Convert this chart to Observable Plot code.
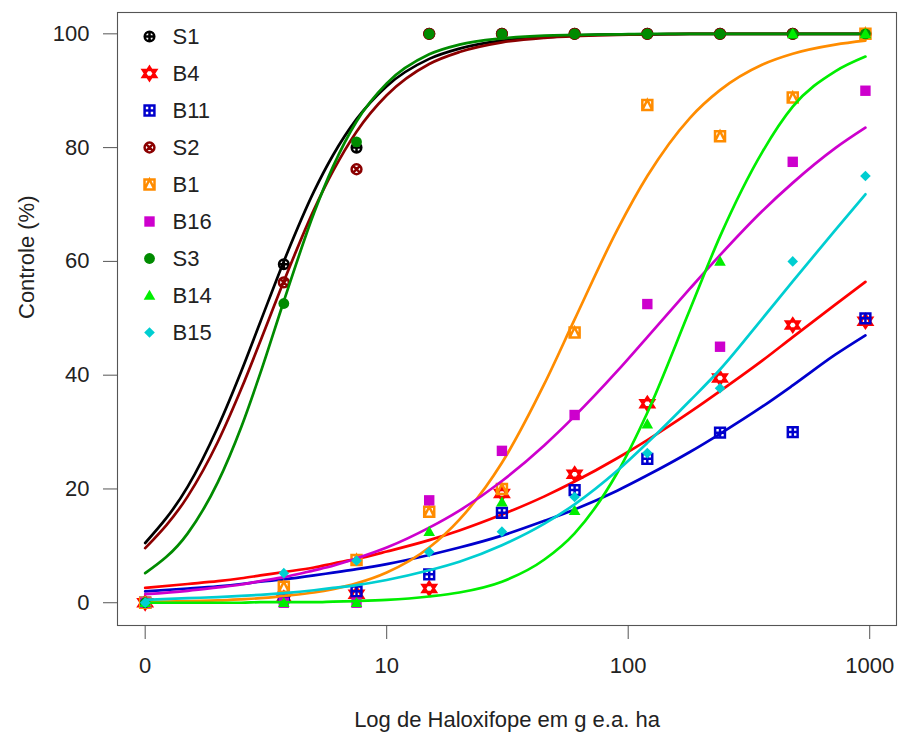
<!DOCTYPE html>
<html><head><meta charset="utf-8">
<script src="https://cdn.jsdelivr.net/npm/d3@7"></script>
<script src="https://cdn.jsdelivr.net/npm/@observablehq/plot@0.6"></script>
<style>body{margin:0;background:#fff;}</style>
</head><body><div id="chart"></div>
<script>
// ---- data ----
const series = ["S1", "B4", "B11", "S2", "B1", "B16", "S3", "B14", "B15"];
const doses = [0, 3.75, 7.5, 15, 30, 60, 120, 240, 480, 960];
const controlS1  = [0, 59.5, 80, 100, 100, 100, 100, 100, 100, 100];
const controlB4  = [0, 0.8, 1.5, 2.5, 19.2, 22.6, 35, 39.5, 48.8, 49.5];
const controlB11 = [0, 1, 2, 5, 15.8, 19.8, 25.3, 29.9, 30, 50];
const controlS2  = [0, 56.3, 76.2, 100, 100, 100, 100, 100, 100, 100];
const controlB1  = [0, 2.8, 7.5, 16, 20, 47.5, 87.5, 82, 88.8, 100];
const controlB16 = [0, 0, 0, 18, 26.7, 33, 52.5, 45, 77.5, 90];
const controlS3  = [0, 52.6, 81, 100, 100, 100, 100, 100, 100, 100];
const controlB14 = [0, 0, 0, 12.5, 17.7, 16.2, 31.4, 60, 100, 100];
const controlB15 = [0, 5.2, 7.4, 8.9, 12.5, 18.6, 26.3, 37.7, 60, 75];

// fitted curves
const curveDoses = [1, 1.5, 2, 2.5, 3, 3.75, 5, 6, 7.5, 10, 15, 20, 30, 45, 60, 90, 120, 180, 240, 360, 480, 720, 960];
const fitS1  = [10.5, 20.4, 30.9, 40.7, 49.4, 60.0, 72.3, 78.7, 85.0, 90.8, 95.6, 97.4, 98.8, 99.4, 99.7, 99.9, 99.9, 100, 100, 100, 100, 100, 100];
const fitB4  = [2.6, 3.3, 3.8, 4.3, 4.8, 5.4, 6.2, 6.9, 7.7, 9.0, 11.0, 12.7, 15.5, 18.7, 21.3, 25.4, 28.6, 33.5, 37.2, 42.6, 46.7, 52.4, 56.4];
const fitB11 = [2.0, 2.5, 2.9, 3.3, 3.7, 4.1, 4.8, 5.3, 5.9, 6.8, 8.4, 9.7, 11.8, 14.4, 16.4, 19.7, 22.4, 26.5, 29.7, 34.5, 38.2, 43.6, 47.0];
const fitS2  = [9.6, 18.7, 28.3, 37.6, 46.0, 56.5, 69.1, 75.9, 82.8, 89.2, 94.7, 96.8, 98.5, 99.3, 99.6, 99.8, 99.9, 100, 100, 100, 100, 100, 100];
const fitB1  = [0.1, 0.3, 0.4, 0.6, 0.8, 1.2, 1.8, 2.4, 3.4, 5.3, 9.7, 14.6, 24.6, 38.5, 49.8, 65.5, 75.0, 85.2, 90.1, 94.6, 96.5, 98.1, 98.8];
const fitB16 = [1.5, 2.1, 2.7, 3.2, 3.8, 4.5, 5.7, 6.5, 7.8, 9.7, 13.2, 16.2, 21.4, 27.7, 32.8, 40.7, 46.7, 55.2, 61.1, 68.9, 73.8, 79.9, 83.5];
const fitS3  = [5.2, 12.2, 21.2, 30.9, 40.4, 53.0, 68.5, 76.7, 84.6, 91.3, 96.4, 98.1, 99.2, 99.7, 99.8, 99.9, 100, 100, 100, 100, 100, 100, 100];
const fitB14 = [0, 0, 0, 0, 0.1, 0.1, 0.1, 0.2, 0.3, 0.5, 1.1, 1.8, 3.7, 7.6, 12.2, 22.8, 33.4, 51.5, 64.4, 79.3, 87.2, 93.4, 96.0];
const fitB15 = [0.5, 0.8, 1.0, 1.2, 1.4, 1.7, 2.2, 2.6, 3.1, 4.0, 5.7, 7.2, 10.1, 13.9, 17.3, 23.2, 28.1, 35.5, 41.0, 50.0, 56.5, 65.5, 71.8];

const xTickValues = [1, 10, 100, 1000];
const xTickLabels = ["0", "10", "100", "1000"];
const yTickValues = [0, 20, 40, 60, 80, 100];
const xTitle = "Log de Haloxifope em g e.a. ha";
const yTitle = "Controle (%)";
const zeroDose = 1; // dose 0 drawn at the position of 1 (broken log axis)

const pointValues = [controlS1, controlB4, controlB11, controlS2, controlB1, controlB16, controlS3, controlB14, controlB15];
const fitValues = [fitS1, fitB4, fitB11, fitS2, fitB1, fitB16, fitS3, fitB14, fitB15];

// ---- styles ----
const colors = ["#000000", "#FF0000", "#0000CD", "#8B0000", "#FF8C00", "#CD00CD", "#008B00", "#00EE00", "#00CED1"];
const R = (s) => Math.sqrt(s / Math.PI);
const circlePlus = {draw(c, s) { const r = R(s); c.moveTo(r, 0); c.arc(0, 0, r, 0, 2 * Math.PI); c.moveTo(-r, 0); c.lineTo(r, 0); c.moveTo(0, -r); c.lineTo(0, r); }};
const starDavid = {draw(c, s) { const r = R(s); const w = 0.95 * r, h = 0.95 * r, b = 0.5 * r;
  c.moveTo(0, -h); c.lineTo(w, b); c.lineTo(-w, b); c.closePath();
  c.moveTo(0, h); c.lineTo(w, -b); c.lineTo(-w, -b); c.closePath(); }};
const squarePlus = {draw(c, s) { const r = R(s); c.rect(-r, -r, 2 * r, 2 * r); c.moveTo(-r, 0); c.lineTo(r, 0); c.moveTo(0, -r); c.lineTo(0, r); }};
const circleX = {draw(c, s) { const r = R(s); const q = r * 0.7071; c.moveTo(r, 0); c.arc(0, 0, r, 0, 2 * Math.PI); c.moveTo(-q, -q); c.lineTo(q, q); c.moveTo(-q, q); c.lineTo(q, -q); }};
const squareTri = {draw(c, s) { const r = R(s); c.rect(-r, -r, 2 * r, 2 * r); c.moveTo(-r, r); c.lineTo(0, -r); c.lineTo(r, r); }};
const squareF = {draw(c, s) { const r = R(s); c.rect(-r, -r, 2 * r, 2 * r); }};
const circleF = {draw(c, s) { const r = R(s); c.moveTo(r, 0); c.arc(0, 0, r, 0, 2 * Math.PI); c.closePath(); }};
const triangleF = {draw(c, s) { const r = R(s); c.moveTo(0, -r); c.lineTo(r, 0.75 * r); c.lineTo(-r, 0.75 * r); c.closePath(); }};
const diamondF = {draw(c, s) { const r = R(s); c.moveTo(0, -r); c.lineTo(r, 0); c.lineTo(0, r); c.lineTo(-r, 0); c.closePath(); }};
const pchSymbols = [circlePlus, starDavid, squarePlus, circleX, squareTri, squareF, circleF, triangleF, diamondF];
const filled = [false, false, false, false, false, true, true, true, true];
const radii = [4.8, 7, 4.9, 4.9, 5, 5.2, 5.4, 5.8, 5.3];

function symStyle(i) {
  return filled[i]
    ? {symbol: pchSymbols[i], r: radii[i], fill: colors[i], stroke: "none"}
    : {symbol: pchSymbols[i], r: radii[i], fill: "none", stroke: colors[i], strokeWidth: 2.5};
}

const marks = [
  Plot.frame({stroke: "#555", strokeWidth: 1.1}),
  Plot.axisX({ticks: xTickValues, tickFormat: d => xTickLabels[xTickValues.indexOf(d)], tickSize: 14, tickPadding: 18, stroke: "#555", fill: "#222", label: null}),
  Plot.axisY({ticks: yTickValues, tickSize: 14, tickPadding: 14, stroke: "#555", fill: "#222", label: null}),
  Plot.text([xTitle], {frameAnchor: "bottom", dy: 101, lineAnchor: "bottom", fill: "#222"}),
  Plot.text([yTitle], {frameAnchor: "left", dx: -84, rotate: -90, lineAnchor: "bottom", fill: "#222"})
];

series.forEach((name, i) => {
  const pts = doses.map((d, j) => ({dose: d === 0 ? zeroDose : d, value: pointValues[i][j]}));
  marks.push(Plot.dot(pts, {x: "dose", y: "value", ...symStyle(i)}));
  const crv = curveDoses.map((d, j) => ({dose: d, value: fitValues[i][j]}));
  marks.push(Plot.line(crv, {x: "dose", y: "value", stroke: colors[i], strokeWidth: 2.7, curve: "monotone-x"}));
});

series.forEach((name, i) => {
  marks.push(Plot.dot([name], {frameAnchor: "top-left", dx: 32, dy: 24 + 37 * i, ...symStyle(i)}));
  marks.push(Plot.text([name], {frameAnchor: "top-left", dx: 55, dy: 24 + 37 * i, textAnchor: "start", lineAnchor: "middle", fill: "#222"}));
});

const chart = Plot.plot({
  width: 898, height: 733,
  marginLeft: 117, marginRight: 2, marginTop: 12, marginBottom: 108,
  style: {fontFamily: "'Liberation Sans', Arial, sans-serif", fontSize: "22px", background: "#fff", color: "#222"},
  x: {type: "log", domain: [0.768, 1291]},
  y: {domain: [-4, 103.75]},
  marks
});
document.getElementById("chart").appendChild(chart);
</script></body></html>
